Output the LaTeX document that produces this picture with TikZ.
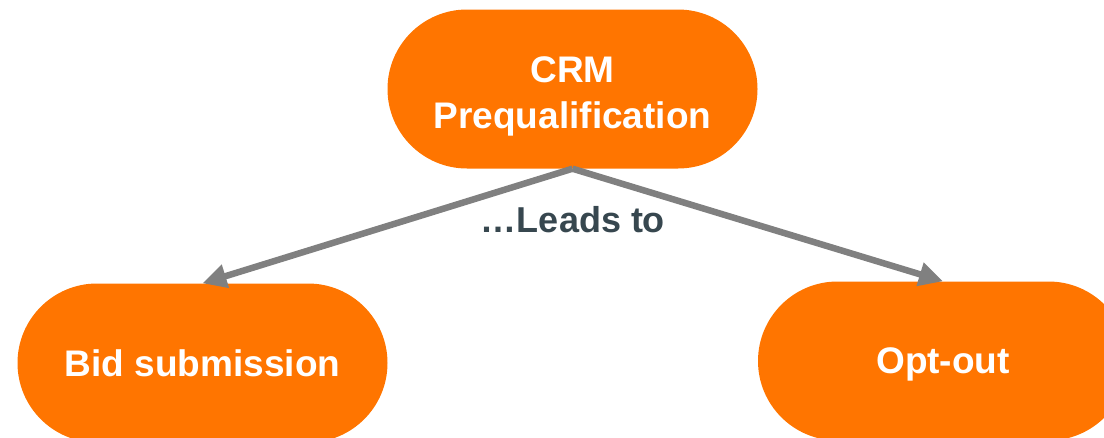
\documentclass[tikz,border=0pt]{standalone}
\usepackage{fontspec}
\setmainfont{Liberation Sans}
\usetikzlibrary{arrows.meta,shapes.misc}
\definecolor{crmorange}{HTML}{FF7500}
\definecolor{arrowgray}{HTML}{808080}
\definecolor{labelslate}{HTML}{37474F}
\tikzset{
  pill/.style={rounded rectangle, fill=crmorange, draw=none, minimum width=370pt, minimum height=159pt,
    text=white, font=\bfseries\fontsize{37}{46}\selectfont, align=center, inner sep=0pt},
  leadarrow/.style={draw=arrowgray, line width=6.5pt, -{Triangle[length=24pt,width=23pt]}},
  leadlabel/.style={text=labelslate, font=\bfseries\fontsize{36}{42}\selectfont, inner sep=0pt}
}
\begin{document}
\begin{tikzpicture}[x=1pt,y=-1pt]
\useasboundingbox (0,0) rectangle (1104,437);
\clip (0,0) rectangle (1104,437);
\node[pill] (crm) at (572.5,89) {\rule{0pt}{40pt}CRM\\Prequalification};
\node[pill] (bid) at (202.5,363) {Bid submission};
\node[pill, text depth=0pt] (opt) at (943,361) {Opt-out};
\draw[leadarrow] (crm.south) -- (bid.north);
\draw[leadarrow] (crm.south) -- (opt.north);
\node[leadlabel, anchor=base] (lead) at (573,232) {…Leads to};
\end{tikzpicture}
\end{document}
